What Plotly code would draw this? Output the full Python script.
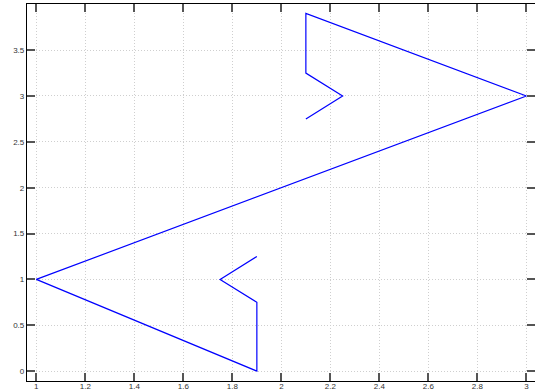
import plotly.graph_objects as go

# Path vertices of the polyline
x_vals = [1.9, 1.75, 1.9, 1.9, 1.0, 3.0, 2.1, 2.1, 2.25, 2.1]
y_vals = [1.25, 1.0, 0.75, 0.0, 1.0, 3.0, 3.9, 3.25, 3.0, 2.75]

x_ticks = [1, 1.2, 1.4, 1.6, 1.8, 2, 2.2, 2.4, 2.6, 2.8, 3]
y_ticks = [0, 0.5, 1, 1.5, 2, 2.5, 3, 3.5]

fig = go.Figure(
    go.Scatter(
        x=x_vals, y=y_vals, mode="lines",
        line=dict(color="#0000ff", width=1.2),
        hoverinfo="skip",
    )
)

axis_common = dict(
    showline=True, linecolor="#000000", linewidth=1.2,
    mirror="allticks", ticks="inside", ticklen=8, tickwidth=1.5,
    tickcolor="#555555",
    showgrid=True, gridcolor="#cfcfcf", griddash="1px,2px", gridwidth=1,
    zeroline=False, automargin=False,
    tickfont=dict(family="Liberation Sans, Arial, sans-serif", size=8, color="#333333"),
)

fig.update_xaxes(range=[0.962, 3.035], tickvals=x_ticks,
                 ticktext=[f"{v:g}" for v in x_ticks],
                 ticklabelstandoff=-3, **axis_common)
fig.update_yaxes(range=[-0.108, 4.003], tickvals=y_ticks,
                 ticktext=[f"{v:g}" for v in y_ticks], **axis_common)

fig.update_layout(
    width=535, height=390,
    margin=dict(l=27, r=0, t=4, b=9),
    paper_bgcolor="white", plot_bgcolor="white",
    showlegend=False,
)

fig.write_html("out.html")
